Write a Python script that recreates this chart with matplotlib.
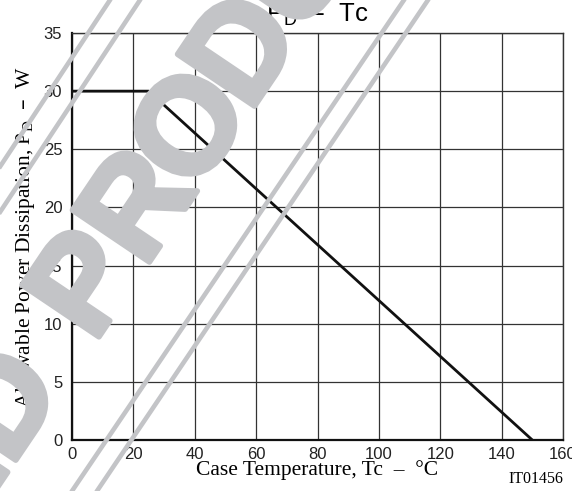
import numpy as np
import matplotlib.pyplot as plt
import matplotlib.patheffects as pe

# derating curve: allowable power dissipation vs case temperature
case_temp = [0, 25, 150]
power_w = [30, 30, 0]

x_ticks = [0, 20, 40, 60, 80, 100, 120, 140, 160]
y_ticks = [0, 5, 10, 15, 20, 25, 30, 35]

W, H = 572, 491
fig = plt.figure(figsize=(W / 100, H / 100), dpi=100)
ax = fig.add_axes([72 / W, 1 - 440 / H, 491 / W, 407 / H])

ax.plot(case_temp, power_w, color="#111111", lw=2.0, solid_capstyle="butt", zorder=3)
ax.set_xlim(0, 160)
ax.set_ylim(0, 35)
ax.set_xticks(x_ticks)
ax.set_yticks(y_ticks)
ax.grid(True, color="#333333", lw=0.9)
ax.tick_params(length=0, labelsize=12, labelcolor="#222222")
ax.tick_params(axis="x", pad=5)
ax.tick_params(axis="y", pad=7)
for lab in ax.get_xticklabels() + ax.get_yticklabels():
    lab.set_family("Liberation Sans")
for side in ["left", "bottom"]:
    ax.spines[side].set_linewidth(1.6)
    ax.spines[side].set_color("#111111")
for side in ["top", "right"]:
    ax.spines[side].set_linewidth(1.0)
    ax.spines[side].set_color("#333333")

ax.set_xlabel("Case Temperature, Tc  \u2013  \u00b0C", family="Liberation Serif",
              fontsize=15.5, labelpad=-1)
ax.set_ylabel("Allowable Power Dissipation, P$_\\mathregular{D}$  \u2013  W",
              family="Liberation Serif", fontsize=15.5)
ax.yaxis.set_label_coords(-0.072, 0.5)
ax.set_title("P$_\\mathregular{D}$  \u2013  Tc", family="Liberation Sans",
             fontsize=18.5, pad=8)
fig.text(563 / W, 1 - 483 / H, "IT01456", family="Liberation Serif",
         fontsize=11.5, ha="right", va="baseline")

# watermark overlay in pixel coordinates
ov = fig.add_axes([0, 0, 1, 1], zorder=10)
ov.set_xlim(0, W)
ov.set_ylim(H, 0)
ov.axis("off")
ov.patch.set_alpha(0)

wm = "#c3c4c7"
# frame lines: (x at top edge, x at bottom edge)
for x_top, x_bot in [(110, 110 - 0.66 * H), (140, 140 - 0.66 * H),
                     (404, 72), (428, 97)]:
    s = (x_top - x_bot) / H
    ov.plot([x_top + s * 100, x_top - s * 700], [-100, 700],
            color=wm, lw=3.3, solid_capstyle="butt")

ang = 56
u = np.array([np.cos(np.radians(ang)), -np.sin(np.radians(ang))])
v = np.array([-np.sin(np.radians(ang)), -np.cos(np.radians(ang))])
em = 135
pitch = 94
space = 51
p_center = np.array([79, 280])
word = "DISCONTINUED PRODUCT"
ip = word.index("PRODUCT")
offs = {}
d = 0.0
for i in range(ip - 1, -1, -1):
    d -= space if word[i] == " " else pitch
    offs[i] = d
for i in range(ip, len(word)):
    offs[i] = pitch * (i - ip)
for i, ch in enumerate(word):
    if ch == " ":
        continue
    c = p_center + u * offs[i] - v * (0.716 * em / 2)
    ov.text(c[0], c[1], ch, rotation=ang, rotation_mode="anchor",
            ha="center", va="baseline", fontsize=em * 0.72, color=wm,
            family="Liberation Sans", weight="bold",
            path_effects=[pe.withStroke(linewidth=4, foreground=wm)])

fig.savefig("out.png", dpi=100)
